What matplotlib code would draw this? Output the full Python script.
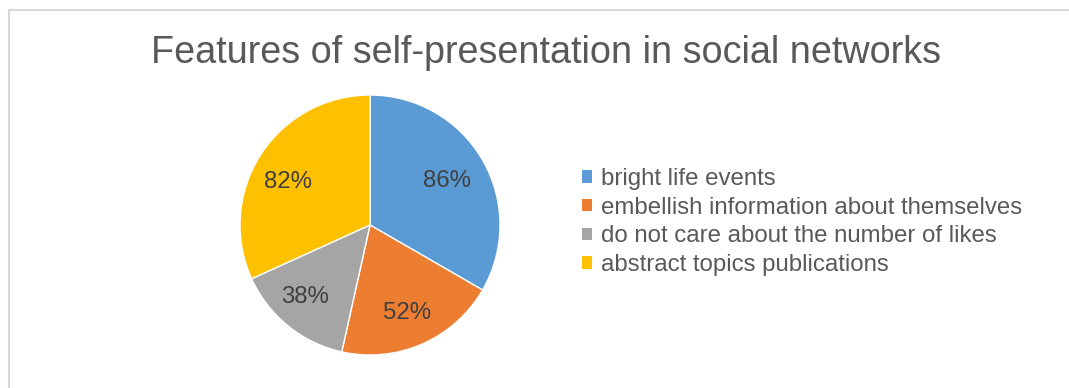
import numpy as np
import matplotlib.pyplot as plt
from matplotlib.patches import Patch
from matplotlib.lines import Line2D

plt.rcParams['font.family'] = ['Liberation Sans', 'DejaVu Sans']

categories = ['bright life events', 'embellish information about themselves',
              'do not care about the number of likes', 'abstract topics publications']
values = [86, 52, 38, 82]
labels = ['86%', '52%', '38%', '82%']
colors = ['#5B9BD5', '#ED7D31', '#A5A5A5', '#FFC000']

W, H = 1069, 388
fig = plt.figure(figsize=(W / 100, H / 100), dpi=100)

# frame lines (chart area border, cut at right/bottom)
fig.add_artist(Line2D([8.5 / W, 8.5 / W], [0, 1 - 10 / H], color='#D9D9D9', lw=1.5))
fig.add_artist(Line2D([8.5 / W, 1], [1 - 10 / H, 1 - 10 / H], color='#D9D9D9', lw=1.5))

fig.text(546 / W, 1 - 53 / H, 'Features of self-presentation in social networks',
         ha='center', va='center', fontsize=27.2, color='#595959')

cx, cy, r = 370, 225, 130
ax = fig.add_axes([(cx - r) / W, (H - cy - r) / H, 2 * r / W, 2 * r / H])
wedges, _ = ax.pie(values, colors=colors, startangle=90, counterclock=False,
                   wedgeprops=dict(edgecolor='white', linewidth=1))
ax.set_aspect('equal')
ax.set_xlim(-1, 1)
ax.set_ylim(-1, 1)

# label placement (distance from centre, angle tweak in degrees)
dist = [0.68, 0.735, 0.75, 0.71]
tweak = [0, -1, -3, 5]
for w, lab, d, t in zip(wedges, labels, dist, tweak):
    a = np.deg2rad((w.theta1 + w.theta2) / 2 + t)
    ax.text(d * np.cos(a), d * np.sin(a), lab, ha='center', va='center',
            fontsize=17.3, color='#404040')

handles = [Patch(facecolor=c, edgecolor='none') for c in colors]
fig.legend(handles, categories, loc='center left', bbox_to_anchor=(582 / W, 1 - 222 / H),
           frameon=False, fontsize=17.3, labelcolor='#595959', handlelength=0.42,
           handleheight=0.42, handletextpad=0.35, labelspacing=0.28, borderpad=0,
           borderaxespad=0)

fig.savefig('out.png', dpi=100)
